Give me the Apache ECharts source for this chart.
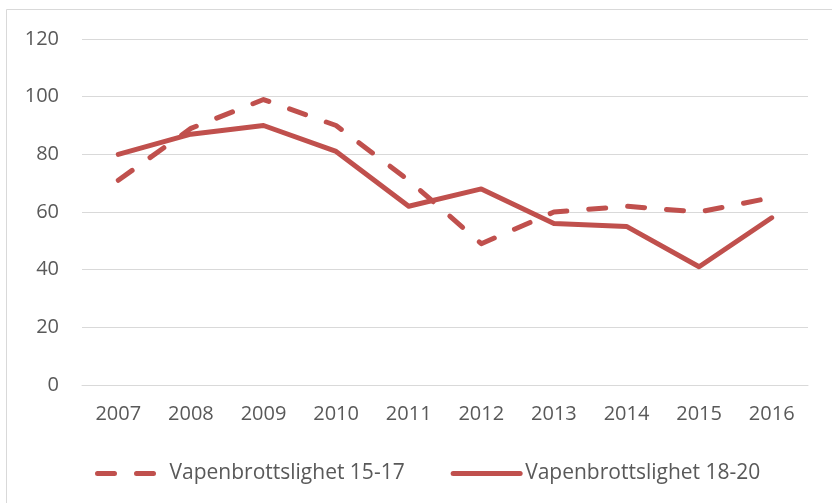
<!DOCTYPE html>
<html>
<head>
<meta charset="utf-8">
<script src="https://cdn.jsdelivr.net/npm/echarts@6/dist/echarts.min.js"></script>
<style>
  html, body { margin: 0; padding: 0; background: #fff; }
  #chart { width: 832px; height: 503px; }
</style>
</head>
<body>
<div id="chart"></div>
<script>
// Vapenbrottslighet per år — two age groups, Excel-style line chart

const years = ['2007', '2008', '2009', '2010', '2011', '2012', '2013', '2014', '2015', '2016'];
const age1517 = [71, 89, 99, 90, 71, 49, 60, 62, 60, 65];
const age1820 = [80, 87, 90, 81, 62, 68, 56, 55, 41, 58];
const seriesNames = ['Vapenbrottslighet 15-17', 'Vapenbrottslighet 18-20'];

const C = {
  line:  '#c0504d',
  grid:  '#d9d9d9',
  label: '#595959',
  font:  '"Open Sans", Lato, sans-serif'
};

const chart = echarts.init(document.getElementById('chart'), null, { renderer: 'canvas' });

chart.setOption({
  backgroundColor: '#fff',
  animation: false,
  textStyle: { fontFamily: C.font },
  graphic: [{
    type: 'rect',
    shape: { x: 6.5, y: 9.5, width: 840, height: 520 },
    style: { fill: 'none', stroke: C.grid, lineWidth: 1 },
    silent: true
  }],
  grid: { left: 82, right: 24, top: 39, bottom: 118 },
  legend: {
    data: seriesNames,
    left: 90,
    top: 458,
    itemWidth: 67,
    itemHeight: 20,
    itemGap: 46,
    itemStyle: { opacity: 0 },
    lineStyle: { width: 5, cap: 'round' },
    textStyle: { color: C.label, fontFamily: C.font, fontSize: 21 }
  },
  xAxis: {
    type: 'category',
    data: years,
    boundaryGap: true,
    axisLine: { show: true, lineStyle: { color: C.grid, width: 1 } },
    axisTick: { show: false },
    axisLabel: { color: C.label, fontFamily: C.font, fontSize: 20, margin: 19 }
  },
  yAxis: {
    type: 'value',
    min: 0,
    max: 120,
    interval: 20,
    axisLine: { show: false },
    axisTick: { show: false },
    axisLabel: { color: C.label, fontFamily: C.font, fontSize: 20, margin: 23 },
    splitLine: { lineStyle: { color: C.grid, width: 1 } }
  },
  series: [
    {
      name: seriesNames[0],
      type: 'line',
      data: age1517,
      symbol: 'none',
      itemStyle: { color: C.line },
      lineStyle: { color: C.line, width: 5, type: [17, 22], cap: 'round', join: 'round' }
    },
    {
      name: seriesNames[1],
      type: 'line',
      data: age1820,
      symbol: 'none',
      itemStyle: { color: C.line },
      lineStyle: { color: C.line, width: 5, cap: 'round', join: 'round' }
    }
  ]
});
</script>
</body>
</html>
